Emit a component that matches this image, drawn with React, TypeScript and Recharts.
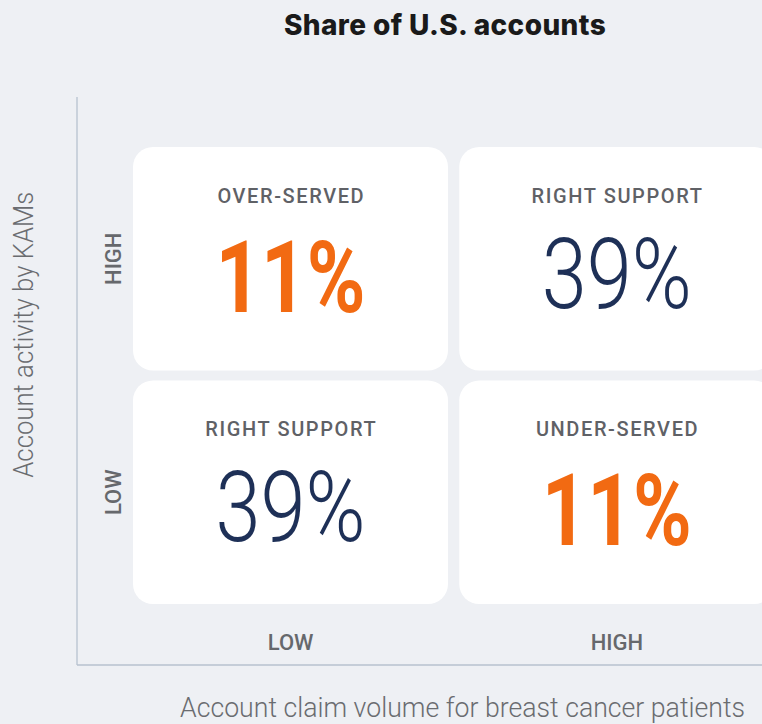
import React from 'react';
import { BarChart, Bar, XAxis, YAxis } from 'recharts';

// Quadrant matrix: claim volume (x) vs KAM activity (y)
const volumeLevels = ['LOW', 'HIGH'];
const activityLevels = ['LOW', 'HIGH'];
const lowActivityLabels = ['RIGHT SUPPORT', 'UNDER-SERVED'];
const lowActivityShares = [39, 11];
const highActivityLabels = ['OVER-SERVED', 'RIGHT SUPPORT'];
const highActivityShares = [11, 39];
const alertLabels = ['OVER-SERVED', 'UNDER-SERVED'];

const BG = '#eef0f4';
const ORANGE = '#f26a12';
const NAVY = '#1e3057';
const GREY = '#5f6166';
const AXIS = '#b7c2cf';

const data = volumeLevels.map((v, i) => ({
    volume: v,
    low: 1,
    high: 1,
    lowLabel: lowActivityLabels[i],
    lowShare: lowActivityShares[i],
    highLabel: highActivityLabels[i],
    highShare: highActivityShares[i],
}));

const renderCell = (row: 'low' | 'high') => (props: any) => {
    const { x, y, width, height, payload } = props;
    const label = payload[row + 'Label'];
    const share = payload[row + 'Share'];
    const alert = alertLabels.includes(label);
    const cx = x + width / 2;
    const top = y + 5;
    return (
        <g>
            <rect x={x + 5.5} y={top} width={width - 11} height={height - 10} rx={20} ry={20} fill="#fff" />
            <text x={cx + 0.8} y={top + 55.7} textAnchor="middle" fontFamily="Roboto" fontWeight={500} fontSize={20} letterSpacing={1.6} fill={GREY}>
                {label}
            </text>
            <text
                x={cx}
                y={top + (alert ? 164.7 : 160.5)}
                textAnchor="middle"
                fontFamily="Roboto"
                fontWeight={alert ? 700 : 300}
                fontSize={alert ? 100 : 98}
                fill={alert ? ORANGE : NAVY}
                textLength={150}
                lengthAdjust="spacingAndGlyphs"
            >
                {share}%
            </text>
        </g>
    );
};

const XTick = (props: any) => {
    const { x, y, payload } = props;
    return (
        <text x={x} y={y - 15} textAnchor="middle" fontFamily="Roboto" fontWeight={500} fontSize={22} fill="#66686c">
            {payload.value}
        </text>
    );
};

const YTick = (props: any) => {
    const { x, y, payload } = props;
    const bx = x + 44;
    return (
        <text x={bx} y={y} transform={`rotate(-90, ${bx}, ${y})`} textAnchor="middle" fontFamily="Roboto" fontWeight={500} fontSize={22} fill="#66686c">
            {activityLevels[Math.floor(payload.value)]}
        </text>
    );
};

export default function App() {
    return (
        <div style={{ position: 'absolute', left: 0, top: 0, width: 762, height: 724, overflow: 'hidden', background: BG }}>
            <div
                style={{
                    position: 'absolute',
                    left: 245,
                    top: 11,
                    width: 400,
                    textAlign: 'center',
                    fontFamily: 'Inter',
                    fontWeight: 800,
                    fontSize: 28,
                    lineHeight: '28px',
                    letterSpacing: 0.4,
                    color: '#1a1a1a',
                }}
            >
                Share of U.S. accounts
            </div>
            <BarChart
                width={780}
                height={724}
                data={data}
                margin={{ top: 97, right: 0, bottom: 0, left: 0 }}
                barCategoryGap={0}
                barGap={0}
            >
                <XAxis
                    dataKey="volume"
                    type="category"
                    height={59}
                    padding={{ left: 50.5, right: 0 }}
                    tickLine={false}
                    tickSize={0}
                    tickMargin={0}
                    axisLine={{ stroke: AXIS, strokeWidth: 1.3 }}
                    tick={<XTick />}
                    label={{
                        content: () => (
                            <text
                                x={462.5}
                                y={716.7}
                                textAnchor="middle"
                                fontFamily="Roboto"
                                fontWeight={300}
                                fontSize={28}
                                fill="#6a6c70"
                                textLength={565}
                                lengthAdjust="spacingAndGlyphs"
                            >
                                Account claim volume for breast cancer patients
                            </text>
                        ),
                    }}
                />
                <YAxis
                    type="number"
                    domain={[0, 2]}
                    ticks={[0.5, 1.5]}
                    width={77}
                    padding={{ top: 45, bottom: 56 }}
                    tickLine={false}
                    tickSize={0}
                    tickMargin={0}
                    axisLine={{ stroke: AXIS, strokeWidth: 1.3 }}
                    tick={<YTick />}
                    label={{
                        content: () => (
                            <text
                                x={33.5}
                                y={334.7}
                                transform="rotate(-90, 33.5, 334.7)"
                                textAnchor="middle"
                                fontFamily="Roboto"
                                fontWeight={300}
                                fontSize={28}
                                fill="#6a6c70"
                                textLength={286}
                                lengthAdjust="spacingAndGlyphs"
                            >
                                Account activity by KAMs
                            </text>
                        ),
                    }}
                />
                <Bar dataKey="low" stackId="q" shape={renderCell('low')} isAnimationActive={false} />
                <Bar dataKey="high" stackId="q" shape={renderCell('high')} isAnimationActive={false} />
            </BarChart>
        </div>
    );
}
